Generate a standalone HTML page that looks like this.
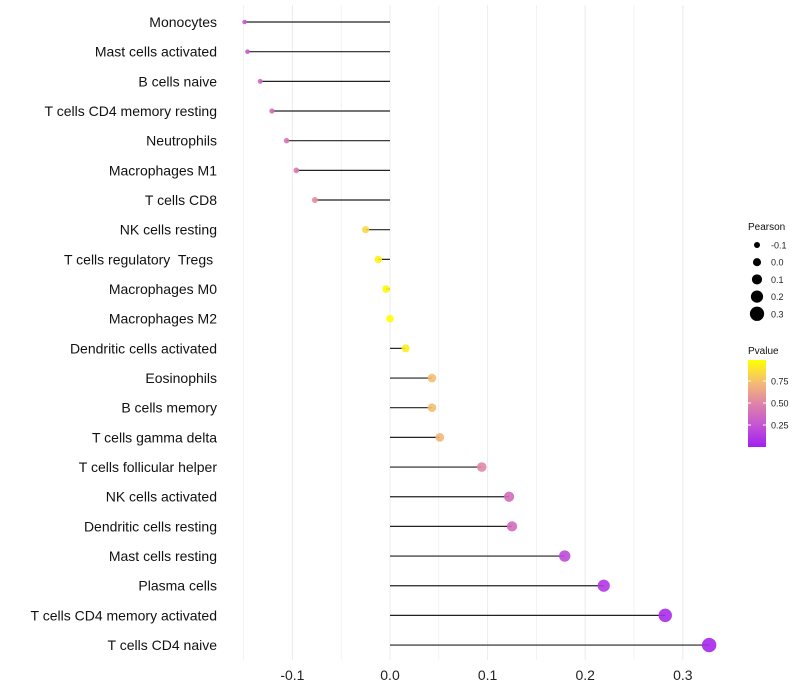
<!DOCTYPE html>
<html><head><meta charset="utf-8"><style>
body{margin:0;background:#fff;}
svg{display:block;font-family:"Liberation Sans",sans-serif;}
text{white-space:pre;}
</style></head><body>
<svg id="chart" width="800" height="700"></svg>
<script>
const categories=["Monocytes","Mast cells activated","B cells naive","T cells CD4 memory resting","Neutrophils","Macrophages M1","T cells CD8","NK cells resting","T cells regulatory  Tregs ","Macrophages M0","Macrophages M2","Dendritic cells activated","Eosinophils","B cells memory","T cells gamma delta","T cells follicular helper","NK cells activated","Dendritic cells resting","Mast cells resting","Plasma cells","T cells CD4 memory activated","T cells CD4 naive"];
const pearson=[-0.149,-0.146,-0.133,-0.121,-0.106,-0.096,-0.077,-0.025,-0.012,-0.004,0.0,0.016,0.043,0.043,0.051,0.094,0.122,0.125,0.179,0.219,0.282,0.327];
const pvalue=[0.28,0.3,0.35,0.38,0.42,0.45,0.55,0.85,0.95,0.98,1.0,0.93,0.75,0.75,0.72,0.52,0.38,0.38,0.2,0.12,0.06,0.04];
const xTicks=[-0.1,0.0,0.1,0.2,0.3];
const xTickLabels=["-0.1","0.0","0.1","0.2","0.3"];
const sizeLegend=[-0.1,0.0,0.1,0.2,0.3];
const pTicks=[0.25,0.5,0.75];

const NS="http://www.w3.org/2000/svg";
const svg=document.getElementById('chart');
const x=v=>390+v*976;
const y=i=>22+i*29.67;
const r=v=>2.3+(v+0.15)*10.3;
const stops=[[0,[160,32,240]],[0.25,[196,84,212]],[0.5,[222,132,168]],[0.75,[245,190,112]],[1,[255,255,0]]];
function col(p){for(let k=1;k<stops.length;k++){if(p<=stops[k][0]){const a=stops[k-1],b=stops[k];const t=(p-a[0])/(b[0]-a[0]);const c=a[1].map((v,j)=>Math.round(v+(b[1][j]-v)*t));return `rgb(${c})`;}}return 'rgb(255,255,0)';}
function el(t,a,parent){const e=document.createElementNS(NS,t);for(const k in a)e.setAttribute(k,a[k]);(parent||svg).appendChild(e);return e;}

const grid=el('g',{});


for(let v=-0.15;v<=0.31;v+=0.05){el('line',{x1:x(v),x2:x(v),y1:5,y2:660,stroke:'#ebebeb','stroke-width':(Math.abs(Math.round(v*20))%2===0)?1:0.6},grid);}
xTicks.forEach((v,i)=>{const t=el('text',{x:x(v),y:680,'text-anchor':'middle','font-size':14,fill:'#222'});t.textContent=xTickLabels[i];

});
categories.forEach((c,i)=>{
 const t=el('text',{x:217,y:y(i)+5,'text-anchor':'end','font-size':14,fill:'#111','xml:space':'preserve'});t.textContent=c;
 
 
 const ln=el('line',{x1:x(0),x2:x(pearson[i]),y1:y(i),y2:y(i),stroke:'#222','stroke-width':1.2});
 
 
 const d=el('circle',{cx:x(pearson[i]),cy:y(i),r:r(pearson[i]),fill:col(pvalue[i]),'fill-opacity':0.9});
 
 
});
const lt=el('text',{x:748,y:230,'font-size':10,fill:'#111'});lt.textContent='Pearson';


sizeLegend.forEach((v,i)=>{const cy=245+i*17.2;
 const c=el('circle',{cx:757,cy:cy,r:r(v)+0.2,fill:'#000'});
 
 
 const t=el('text',{x:771,y:cy+3.5,'font-size':9,fill:'#222'});t.textContent=v.toFixed(1);
 
 });
const ct=el('text',{x:748,y:354,'font-size':10,fill:'#111'});ct.textContent='Pvalue';


const defs=el('defs',{});const g=el('linearGradient',{id:'pg',x1:0,y1:1,x2:0,y2:0},defs);
stops.forEach(s=>el('stop',{offset:s[0],'stop-color':`rgb(${s[1]})`},g));
const bar=el('rect',{x:748,y:360,width:18,height:87,fill:'url(#pg)'});


const py=p=>447-(p-0.0)*88;
pTicks.forEach(p=>{el('line',{x1:748,x2:751,y1:py(p),y2:py(p),stroke:'#fff'});el('line',{x1:763,x2:766,y1:py(p),y2:py(p),stroke:'#fff'});
 const t=el('text',{x:771,y:py(p)+3.5,'font-size':9,fill:'#222'});t.textContent=p.toFixed(2);
 
 });
</script>
</body></html>
